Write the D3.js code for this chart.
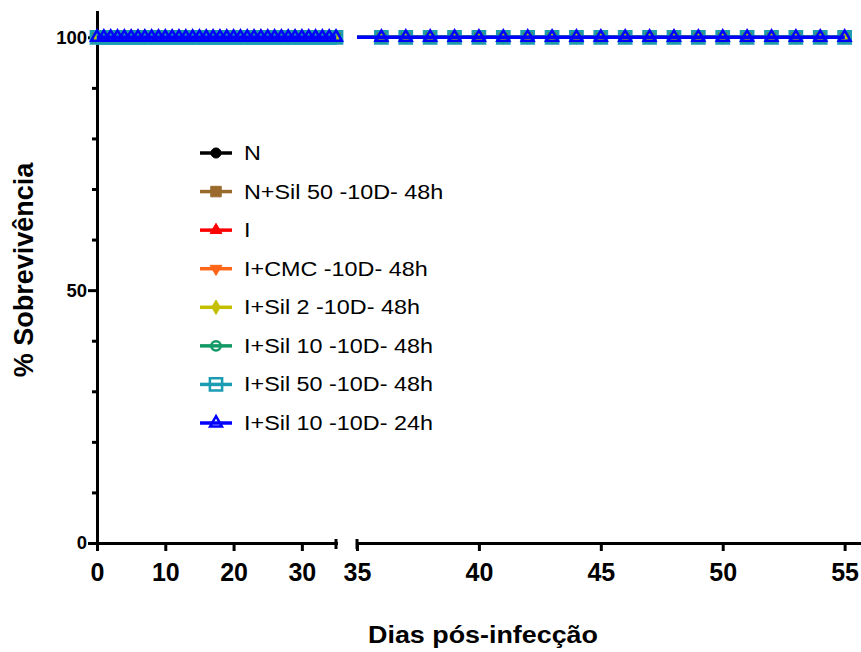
<!DOCTYPE html>
<html>
<head>
<meta charset="utf-8">
<script src="https://cdn.jsdelivr.net/npm/d3@7"></script>
<style>
  body { margin: 0; background: #fff; }
  text { font-family: "Liberation Sans", Arial, sans-serif; }
</style>
</head>
<body>
<script>
const svgWidth = 861
const svgHeight = 652

// days observed (x) and % survival per group (y)
const days = [0,1,2,3,4,5,6,7,8,9,10,11,12,13,14,15,16,17,18,19,20,21,22,23,24,25,26,27,
  28,29,30,31,32,33,34,35,36,37,38,39,40,41,42,43,44,45,46,47,48,49,50,51,52,53,54,55]

const survN =        [100,100,100,100,100,100,100,100,100,100,100,100,100,100,100,100,100,100,100,100,100,100,100,100,100,100,100,100,100,100,100,100,100,100,100,100,100,100,100,100,100,100,100,100,100,100,100,100,100,100,100,100,100,100,100,100]
const survNSil50 =   [100,100,100,100,100,100,100,100,100,100,100,100,100,100,100,100,100,100,100,100,100,100,100,100,100,100,100,100,100,100,100,100,100,100,100,100,100,100,100,100,100,100,100,100,100,100,100,100,100,100,100,100,100,100,100,100]
const survI =        [100,100,100,100,100,100,100,100,100,100,100,100,100,100,100,100,100,100,100,100,100,100,100,100,100,100,100,100,100,100,100,100,100,100,100,100,100,100,100,100,100,100,100,100,100,100,100,100,100,100,100,100,100,100,100,100]
const survICMC =     [100,100,100,100,100,100,100,100,100,100,100,100,100,100,100,100,100,100,100,100,100,100,100,100,100,100,100,100,100,100,100,100,100,100,100,100,100,100,100,100,100,100,100,100,100,100,100,100,100,100,100,100,100,100,100,100]
const survISil2 =    [100,100,100,100,100,100,100,100,100,100,100,100,100,100,100,100,100,100,100,100,100,100,100,100,100,100,100,100,100,100,100,100,100,100,100,100,100,100,100,100,100,100,100,100,100,100,100,100,100,100,100,100,100,100,100,100]
const survISil10 =   [100,100,100,100,100,100,100,100,100,100,100,100,100,100,100,100,100,100,100,100,100,100,100,100,100,100,100,100,100,100,100,100,100,100,100,100,100,100,100,100,100,100,100,100,100,100,100,100,100,100,100,100,100,100,100,100]
const survISil50 =   [100,100,100,100,100,100,100,100,100,100,100,100,100,100,100,100,100,100,100,100,100,100,100,100,100,100,100,100,100,100,100,100,100,100,100,100,100,100,100,100,100,100,100,100,100,100,100,100,100,100,100,100,100,100,100,100]
const survISil10h24 = [100,100,100,100,100,100,100,100,100,100,100,100,100,100,100,100,100,100,100,100,100,100,100,100,100,100,100,100,100,100,100,100,100,100,100,100,100,100,100,100,100,100,100,100,100,100,100,100,100,100,100,100,100,100,100,100]

const seriesNames = ["N", "N+Sil 50 -10D- 48h", "I", "I+CMC -10D- 48h", "I+Sil 2 -10D- 48h",
  "I+Sil 10 -10D- 48h", "I+Sil 50 -10D- 48h", "I+Sil 10 -10D- 24h"]
const seriesValues = [survN, survNSil50, survI, survICMC, survISil2, survISil10, survISil50, survISil10h24]

// broken x axis: two segments
const leftDomain = [0, 35]
const rightDomain = [35, 56]
const xTicksLeft = [0, 10, 20, 30]
const xTicksRight = [35, 40, 45, 50, 55]
const yMajorTicks = [0, 50, 100]
const yMinorTicks = [10, 20, 30, 40, 60, 70, 80, 90]

// styles
const colors = ["#000000", "#9a6a2c", "#ff0000", "#ff6619", "#c4c000", "#129966", "#1a9cb2", "#0000ff"]
const shapes = [d3.symbolCircle, d3.symbolSquare, d3.symbolTriangle, d3.symbolTriangle,
  d3.symbolDiamond, d3.symbolCircle, d3.symbolSquare, d3.symbolTriangle]
const symSizes = [80, 110, 60, 60, 60, 70, 150, 60]
const openMarker = [false, false, false, false, false, true, true, true]
const flipMarker = [false, false, false, true, false, false, false, false]

const series = seriesNames.map((name, i) => ({
  name: name,
  color: colors[i],
  points: days.map((d, j) => ({ day: d, pct: seriesValues[i][j] }))
}))

const svg = d3.select("body").append("svg")
  .attr("width", svgWidth)
  .attr("height", svgHeight)

const xLeft = d3.scaleLinear().domain(leftDomain).range([97, 336])
const xRight = d3.scaleLinear().domain(rightDomain).range([357, 869])
const y = d3.scaleLinear().domain([0, 105]).range([543, 12])

// y axis
const yAxisG = svg.append("g")
  .attr("transform", "translate(97,0)")
  .call(d3.axisLeft(y).tickValues(yMajorTicks).tickSize(9).tickSizeOuter(0).tickPadding(1))
svg.append("g")
  .attr("transform", "translate(97,0)")
  .call(d3.axisLeft(y).tickValues(yMinorTicks).tickSize(5).tickSizeOuter(0).tickFormat(""))
  .select(".domain").remove()

// x axes
const xAxisLeft = svg.append("g")
  .attr("transform", `translate(0, ${y(0)})`)
  .call(d3.axisBottom(xLeft).tickValues(xTicksLeft).tickSize(8).tickSizeOuter(0).tickPadding(12))
const xAxisRight = svg.append("g")
  .attr("transform", `translate(0, ${y(0)})`)
  .call(d3.axisBottom(xRight).tickValues(xTicksRight).tickSize(8).tickSizeOuter(0).tickPadding(12))

svg.selectAll(".domain").attr("stroke-width", 3).attr("stroke-linecap", "square")
svg.selectAll(".tick line").attr("stroke-width", 3)
yAxisG.selectAll("text").attr("font-size", 18.5).attr("font-weight", "bold").attr("fill", "#000")
xAxisLeft.selectAll("text").attr("font-size", 25).attr("font-weight", "bold").attr("fill", "#000")
xAxisRight.selectAll("text").attr("font-size", 25).attr("font-weight", "bold").attr("fill", "#000")

// break caps
const caps = [xLeft(leftDomain[1]), xRight(rightDomain[0])]
svg.selectAll("line.cap").data(caps).join("line")
  .attr("class", "cap")
  .attr("x1", d => d).attr("x2", d => d)
  .attr("y1", y(0) - 4).attr("y2", y(0) + 6)
  .attr("stroke", "#000").attr("stroke-width", 3)

// draw series on both segments
function marker(i) {
  return d3.symbol().type(shapes[i]).size(symSizes[i])
}

function drawPanel(xs, linePts, markPts) {
  const g = svg.append("g")
  series.forEach((s, i) => {
    const line = d3.line().x(d => xs(d.day)).y(d => y(d.pct))
    g.append("path")
      .attr("d", line(s.points.filter(linePts)))
      .attr("fill", "none")
      .attr("stroke", s.color)
      .attr("stroke-width", 3.5)
    g.selectAll(null).data(s.points.filter(markPts)).join("path")
      .attr("d", marker(i)())
      .attr("transform", d => `translate(${xs(d.day)}, ${y(d.pct)})` + (flipMarker[i] ? " rotate(180)" : ""))
      .attr("fill", openMarker[i] ? "none" : s.color)
      .attr("stroke", s.color)
      .attr("stroke-width", openMarker[i] ? 2.5 : 1)
  })
}

drawPanel(xLeft, d => d.day <= leftDomain[1], d => d.day <= leftDomain[1])
drawPanel(xRight, d => d.day >= rightDomain[0], d => d.day > rightDomain[0])

// legend
const legendY = d3.scalePoint().domain(seriesNames).range([153, 423])
const legend = svg.append("g")
series.forEach((s, i) => {
  const row = legend.append("g").attr("transform", `translate(0, ${legendY(s.name)})`)
  row.append("line")
    .attr("x1", 200).attr("x2", 232)
    .attr("stroke", s.color).attr("stroke-width", 3.5)
  row.append("path")
    .attr("d", marker(i)())
    .attr("transform", "translate(216,0)" + (flipMarker[i] ? " rotate(180)" : ""))
    .attr("fill", openMarker[i] ? "none" : s.color)
    .attr("stroke", s.color)
    .attr("stroke-width", openMarker[i] ? 2.5 : 1)
  row.append("g")
    .attr("transform", "translate(244, 7) scale(1.14, 1)")
    .append("text")
    .attr("font-size", 20.5)
    .attr("fill", "#000")
    .text(s.name)
})

// axis titles
svg.append("g")
  .attr("transform", "translate(483, 643) scale(1.12, 1)")
  .append("text")
  .attr("text-anchor", "middle")
  .attr("font-size", 24)
  .attr("font-weight", "bold")
  .text("Dias pós-infecção")

svg.append("text")
  .attr("transform", "translate(33, 270) rotate(-90)")
  .attr("text-anchor", "middle")
  .attr("font-size", 27)
  .attr("font-weight", "bold")
  .text("% Sobrevivência")
</script>
</body>
</html>
